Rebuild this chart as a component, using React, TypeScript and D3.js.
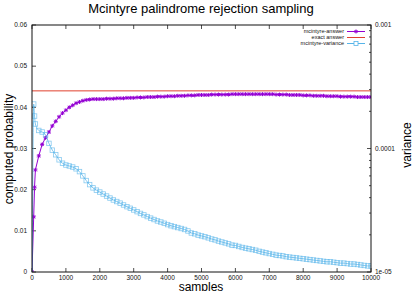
import React, { useEffect, useRef } from "react";
import * as d3 from "d3";

// samples at which the estimate was recorded
const samples = [
  0, 50, 75, 100, 200, 300, 400, 500, 600, 700, 800, 900, 1000,
  1100, 1200, 1300, 1400, 1500, 1600, 1700, 1800, 1900, 2000,
  2100, 2200, 2300, 2400, 2500, 2600, 2700, 2800, 2900, 3000,
  3100, 3200, 3300, 3400, 3500, 3600, 3700, 3800, 3900, 4000,
  4100, 4200, 4300, 4400, 4500, 4600, 4700, 4800, 4900, 5000,
  5100, 5200, 5300, 5400, 5500, 5600, 5700, 5800, 5900, 6000,
  6100, 6200, 6300, 6400, 6500, 6600, 6700, 6800, 6900, 7000,
  7100, 7200, 7300, 7400, 7500, 7600, 7700, 7800, 7900, 8000,
  8100, 8200, 8300, 8400, 8500, 8600, 8700, 8800, 8900, 9000,
  9100, 9200, 9300, 9400, 9500, 9600, 9700, 9800, 9900, 10000,
];

const answer = [
  0, 0.0134, 0.0206, 0.0248, 0.0282, 0.031, 0.0326, 0.034, 0.0355, 0.0366, 0.0377, 0.0386, 0.0393,
  0.04, 0.0405, 0.041, 0.0413, 0.0416, 0.0418, 0.0419, 0.042, 0.042, 0.042,
  0.042, 0.0421, 0.0421, 0.0421, 0.0422, 0.0422, 0.0422, 0.0423, 0.0423, 0.0423,
  0.0424, 0.0424, 0.0424, 0.0425, 0.0425, 0.0425, 0.0426, 0.0426, 0.0426, 0.0427,
  0.0427, 0.0427, 0.0428, 0.0428, 0.0428, 0.0429, 0.0429, 0.0429, 0.043, 0.043,
  0.043, 0.043, 0.0431, 0.0431, 0.0431, 0.0431, 0.0431, 0.0431, 0.0432, 0.0432,
  0.0432, 0.0432, 0.0432, 0.0432, 0.0432, 0.0432, 0.0432, 0.0432, 0.0432, 0.0432,
  0.0432, 0.0431, 0.0431, 0.0431, 0.0431, 0.043, 0.043, 0.043, 0.043, 0.0429,
  0.0429, 0.0429, 0.0428, 0.0428, 0.0428, 0.0428, 0.0427, 0.0427, 0.0427, 0.0427,
  0.0426, 0.0426, 0.0426, 0.0426, 0.0426, 0.0425, 0.0425, 0.0425, 0.0425, 0.0425,
];

const variance = [
  4e-6, 2.29e-4, 1.83e-4, 1.58e-4, 1.4e-4, 1.36e-4, 1.29e-4, 1.1e-4, 9.7e-5, 8.9e-5, 8.1e-5, 7.6e-5, 7.35e-5,
  7.22e-5, 7.08e-5, 6.85e-5, 6.5e-5, 6.0e-5, 5.5e-5, 5.1e-5, 4.8e-5, 4.6e-5, 4.44e-5,
  4.28e-5, 4.12e-5, 3.97e-5, 3.83e-5, 3.72e-5, 3.61e-5, 3.49e-5, 3.38e-5, 3.28e-5, 3.18e-5,
  3.08e-5, 2.98e-5, 2.9e-5, 2.81e-5, 2.73e-5, 2.66e-5, 2.59e-5, 2.54e-5, 2.48e-5, 2.42e-5,
  2.37e-5, 2.33e-5, 2.29e-5, 2.25e-5, 2.21e-5, 2.15e-5, 2.07e-5, 2.04e-5, 1.99e-5, 1.96e-5,
  1.93e-5, 1.89e-5, 1.85e-5, 1.82e-5, 1.78e-5, 1.75e-5, 1.72e-5, 1.69e-5, 1.65e-5, 1.64e-5,
  1.61e-5, 1.58e-5, 1.56e-5, 1.54e-5, 1.52e-5, 1.5e-5, 1.47e-5, 1.45e-5, 1.43e-5, 1.41e-5,
  1.39e-5, 1.37e-5, 1.36e-5, 1.35e-5, 1.33e-5, 1.32e-5, 1.31e-5, 1.3e-5, 1.29e-5, 1.28e-5,
  1.27e-5, 1.26e-5, 1.25e-5, 1.24e-5, 1.23e-5, 1.22e-5, 1.21e-5, 1.21e-5, 1.2e-5, 1.19e-5,
  1.18e-5, 1.18e-5, 1.17e-5, 1.16e-5, 1.16e-5, 1.15e-5, 1.14e-5, 1.13e-5, 1.12e-5, 1.12e-5,
];

const exactAnswer = 0.044;

const xTicks = [0, 1000, 2000, 3000, 4000, 5000, 6000, 7000, 8000, 9000, 10000];
const yTicks = [0, 0.01, 0.02, 0.03, 0.04, 0.05, 0.06];
const y2Ticks = [1e-5, 1e-4, 1e-3];
const y2Labels = ["1e-05", "0.0001", "0.001"];
const seriesNames = ["mcintyre-answer", "exact answer", "mcintyre-variance"];

const W = 415;
const H = 291;
const FONT = "'Liberation Sans', Arial, sans-serif";
const PURPLE = "#9400d3";
const RED = "#e0402e";
const BLUE = "#56b4e9";

export default function App() {
  const ref = useRef<SVGSVGElement | null>(null);

  useEffect(() => {
    const svg = d3.select(ref.current);
    svg.selectAll("*").remove();

    const left = 32, right = 371, top = 25, bottom = 272;

    const x = d3.scaleLinear().domain([0, 10000]).range([left, right]);
    const y = d3.scaleLinear().domain([0, 0.06]).range([bottom, top]);
    const y2 = d3.scaleLog().domain([1e-5, 1e-3]).range([bottom, top]);

    svg.append("defs")
      .append("clipPath").attr("id", "plotclip")
      .append("rect")
      .attr("x", left).attr("y", top)
      .attr("width", right - left).attr("height", bottom - top);

    // title and axis titles
    svg.append("text")
      .attr("x", 201).attr("y", 13)
      .attr("text-anchor", "middle")
      .attr("font-family", FONT).attr("font-size", 13)
      .text("Mcintyre palindrome rejection sampling");

    svg.append("text")
      .attr("x", 201).attr("y", 291)
      .attr("text-anchor", "middle")
      .attr("font-family", FONT).attr("font-size", 12)
      .text("samples");

    svg.append("text")
      .attr("transform", "translate(13,149) rotate(-90)")
      .attr("text-anchor", "middle")
      .attr("font-family", FONT).attr("font-size", 12)
      .text("computed probability");

    svg.append("text")
      .attr("transform", "translate(411,145) rotate(-90)")
      .attr("text-anchor", "middle")
      .attr("font-family", FONT).attr("font-size", 12)
      .text("variance");

    // ticks
    const tk = svg.append("g").attr("stroke", "#222").attr("stroke-width", 0.8);
    xTicks.forEach(t => {
      tk.append("line").attr("x1", x(t)).attr("x2", x(t)).attr("y1", bottom).attr("y2", bottom - 4);
      tk.append("line").attr("x1", x(t)).attr("x2", x(t)).attr("y1", top).attr("y2", top + 4);
    });
    yTicks.forEach(t => {
      tk.append("line").attr("x1", left).attr("x2", left + 4).attr("y1", y(t)).attr("y2", y(t));
    });
    y2Ticks.forEach((t, i) => {
      tk.append("line").attr("x1", right).attr("x2", right - 4).attr("y1", y2(t)).attr("y2", y2(t));
      if (i < y2Ticks.length - 1) {
        for (let m = 2; m <= 9; m++) {
          const v = t * m;
          tk.append("line").attr("x1", right).attr("x2", right - 2).attr("y1", y2(v)).attr("y2", y2(v));
        }
      }
    });

    const lbl = svg.append("g").attr("font-family", FONT).attr("font-size", 6.5).attr("fill", "#111");
    xTicks.forEach(t => {
      lbl.append("text").attr("x", x(t)).attr("y", bottom + 8).attr("text-anchor", "middle").text(String(t));
    });
    yTicks.forEach(t => {
      lbl.append("text").attr("x", left - 5).attr("y", y(t) + 2.3).attr("text-anchor", "end")
        .text(t === 0 ? "0" : String(+t.toFixed(2)));
    });
    y2Ticks.forEach((t, i) => {
      lbl.append("text").attr("x", right + 4).attr("y", y2(t) + 2.3).attr("text-anchor", "start").text(y2Labels[i]);
    });

    const plot = svg.append("g").attr("clip-path", "url(#plotclip)");

    // mcintyre-answer
    const ansLine = d3.line<number>().x((d, i) => x(samples[i])).y(d => y(d));
    plot.append("path").datum(answer)
      .attr("d", ansLine).attr("fill", "none").attr("stroke", PURPLE).attr("stroke-width", 1);
    const star = (g: any, cx: number, cy: number, r: number) => {
      g.append("path")
        .attr("d", `M${cx - r},${cy}H${cx + r}M${cx},${cy - r}V${cy + r}M${cx - r * 0.75},${cy - r * 0.75}L${cx + r * 0.75},${cy + r * 0.75}M${cx - r * 0.75},${cy + r * 0.75}L${cx + r * 0.75},${cy - r * 0.75}`)
        .attr("stroke", PURPLE).attr("stroke-width", 1).attr("fill", "none");
    };
    answer.forEach((d, i) => star(plot, x(samples[i]), y(d), 2));

    // exact answer
    plot.append("line")
      .attr("x1", x(0)).attr("x2", x(10000))
      .attr("y1", y(exactAnswer)).attr("y2", y(exactAnswer))
      .attr("stroke", RED).attr("stroke-width", 1);

    // mcintyre-variance
    const varLine = d3.line<number>().curve(d3.curveMonotoneX).x((d, i) => x(samples[i])).y(d => y2(d));
    plot.append("path").datum(variance)
      .attr("d", varLine).attr("fill", "none").attr("stroke", BLUE).attr("stroke-width", 1).attr("opacity", 0.75);
    plot.selectAll("rect.vsq").data(variance).enter().append("rect")
      .attr("class", "vsq")
      .attr("x", (d, i) => x(samples[i]) - 2.25).attr("y", d => y2(d) - 2.25)
      .attr("width", 4.5).attr("height", 4.5)
      .attr("fill", "none").attr("stroke", BLUE).attr("stroke-width", 0.8).attr("opacity", 0.7);

    // border
    svg.append("rect")
      .attr("x", left).attr("y", top).attr("width", right - left).attr("height", bottom - top)
      .attr("fill", "none").attr("stroke", "#111").attr("stroke-width", 1);

    // legend
    const lg = svg.append("g").attr("font-family", FONT).attr("font-size", 5.5);
    const rows = [31.5, 37.5, 43.5];
    const colors = [PURPLE, RED, BLUE];
    seriesNames.forEach((name, i) => {
      lg.append("text").attr("x", 344).attr("y", rows[i] + 1.9).attr("text-anchor", "end").attr("fill", "#111").text(name);
      lg.append("line").attr("x1", 347).attr("x2", 365).attr("y1", rows[i]).attr("y2", rows[i])
        .attr("stroke", colors[i]).attr("stroke-width", 1);
    });
    star(lg, 356, rows[0], 2);
    lg.append("rect").attr("x", 354).attr("y", rows[2] - 2).attr("width", 4).attr("height", 4)
      .attr("fill", "white").attr("stroke", BLUE).attr("stroke-width", 0.8);
  }, []);

  return (
    <svg
      ref={ref}
      width={W}
      height={H}
      style={{ position: "absolute", left: 0, top: 0, background: "white" }}
    />
  );
}
